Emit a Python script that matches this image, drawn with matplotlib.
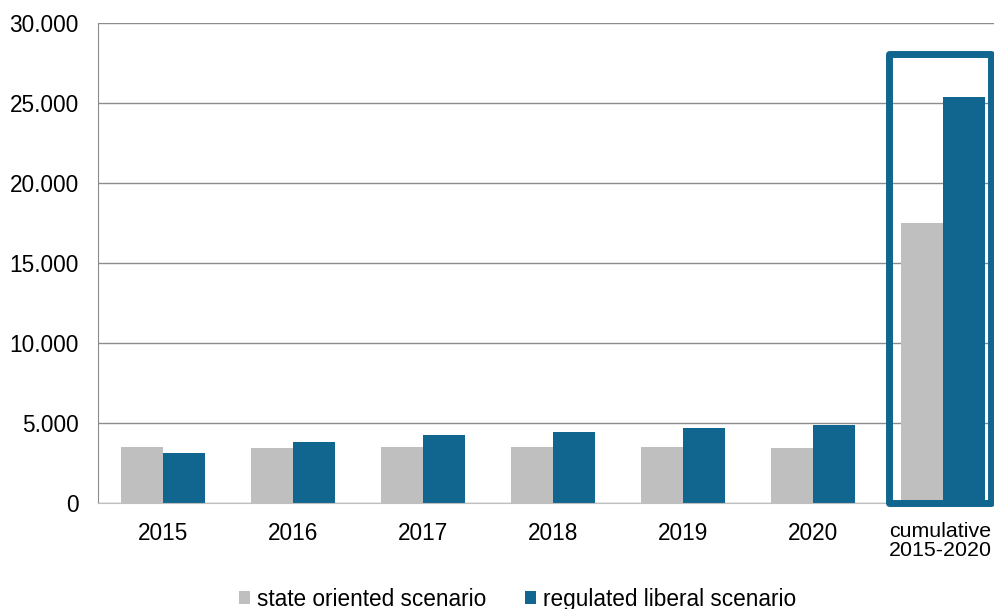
import matplotlib.pyplot as plt
import matplotlib.transforms as mtransforms
from matplotlib.patches import Rectangle
from matplotlib.ticker import FuncFormatter

plt.rcParams['font.family'] = ['Liberation Sans', 'DejaVu Sans']

categories = ['2015', '2016', '2017', '2018', '2019', '2020', 'cumulative\n2015-2020']
state_oriented = [3520, 3420, 3500, 3480, 3480, 3420, 17500]
regulated_liberal = [3100, 3810, 4250, 4440, 4670, 4900, 25400]

gray = '#BFBFBF'
blue = '#10668F'

fig = plt.figure(figsize=(9.95, 6.09), dpi=100)
ax = fig.add_axes([98 / 995, 106 / 609, 910 / 995, 480 / 609])

x = list(range(len(categories)))
w = 0.325
ax.bar([i - w / 2 for i in x], state_oriented, w, color=gray, label='state oriented scenario', zorder=2)
ax.bar([i + w / 2 for i in x], regulated_liberal, w, color=blue, label='regulated liberal scenario', zorder=2)

# highlight box round the cumulative group
ax.add_patch(Rectangle((5.588, 0), 0.785, 28090, fill=False, edgecolor=blue,
                       linewidth=5, joinstyle='round', zorder=3, clip_on=False))

ax.set_xlim(-0.5, 6.5)
ax.set_ylim(0, 30000)
ax.set_yticks(range(0, 30001, 5000))
ax.yaxis.set_major_formatter(FuncFormatter(lambda v, p: '{:,.0f}'.format(v).replace(',', '.')))
ax.set_xticks(x)
ax.set_xticklabels(categories, linespacing=1.0)
ax.tick_params(axis='both', length=0, labelsize=16.3, colors='#000000')
ax.tick_params(axis='y', pad=13.7)
ax.tick_params(axis='x', pad=14)

# last label sits at the figure edge: a bit smaller and nudged left so it stays inside
last = ax.get_xticklabels()[-1]
last.set_fontsize(15.4)
shift = mtransforms.ScaledTranslation(-3 / 100, 0, fig.dpi_scale_trans)
last.set_transform(last.get_transform() + shift)

ax.grid(axis='y', color='#8C8C8C', linewidth=1, zorder=0)
ax.set_axisbelow(True)
for s in ['top', 'right']:
    ax.spines[s].set_visible(False)
ax.spines['left'].set_color('#8C8C8C')
ax.spines['bottom'].set_color('#BFBFBF')

fig.legend(loc='center', bbox_to_anchor=(0.52, 0.016), ncol=2, frameon=False,
           fontsize=16.3, handlelength=0.5, handleheight=0.5, handletextpad=0.3,
           columnspacing=1.7)

fig.savefig('out.png', dpi=100)
